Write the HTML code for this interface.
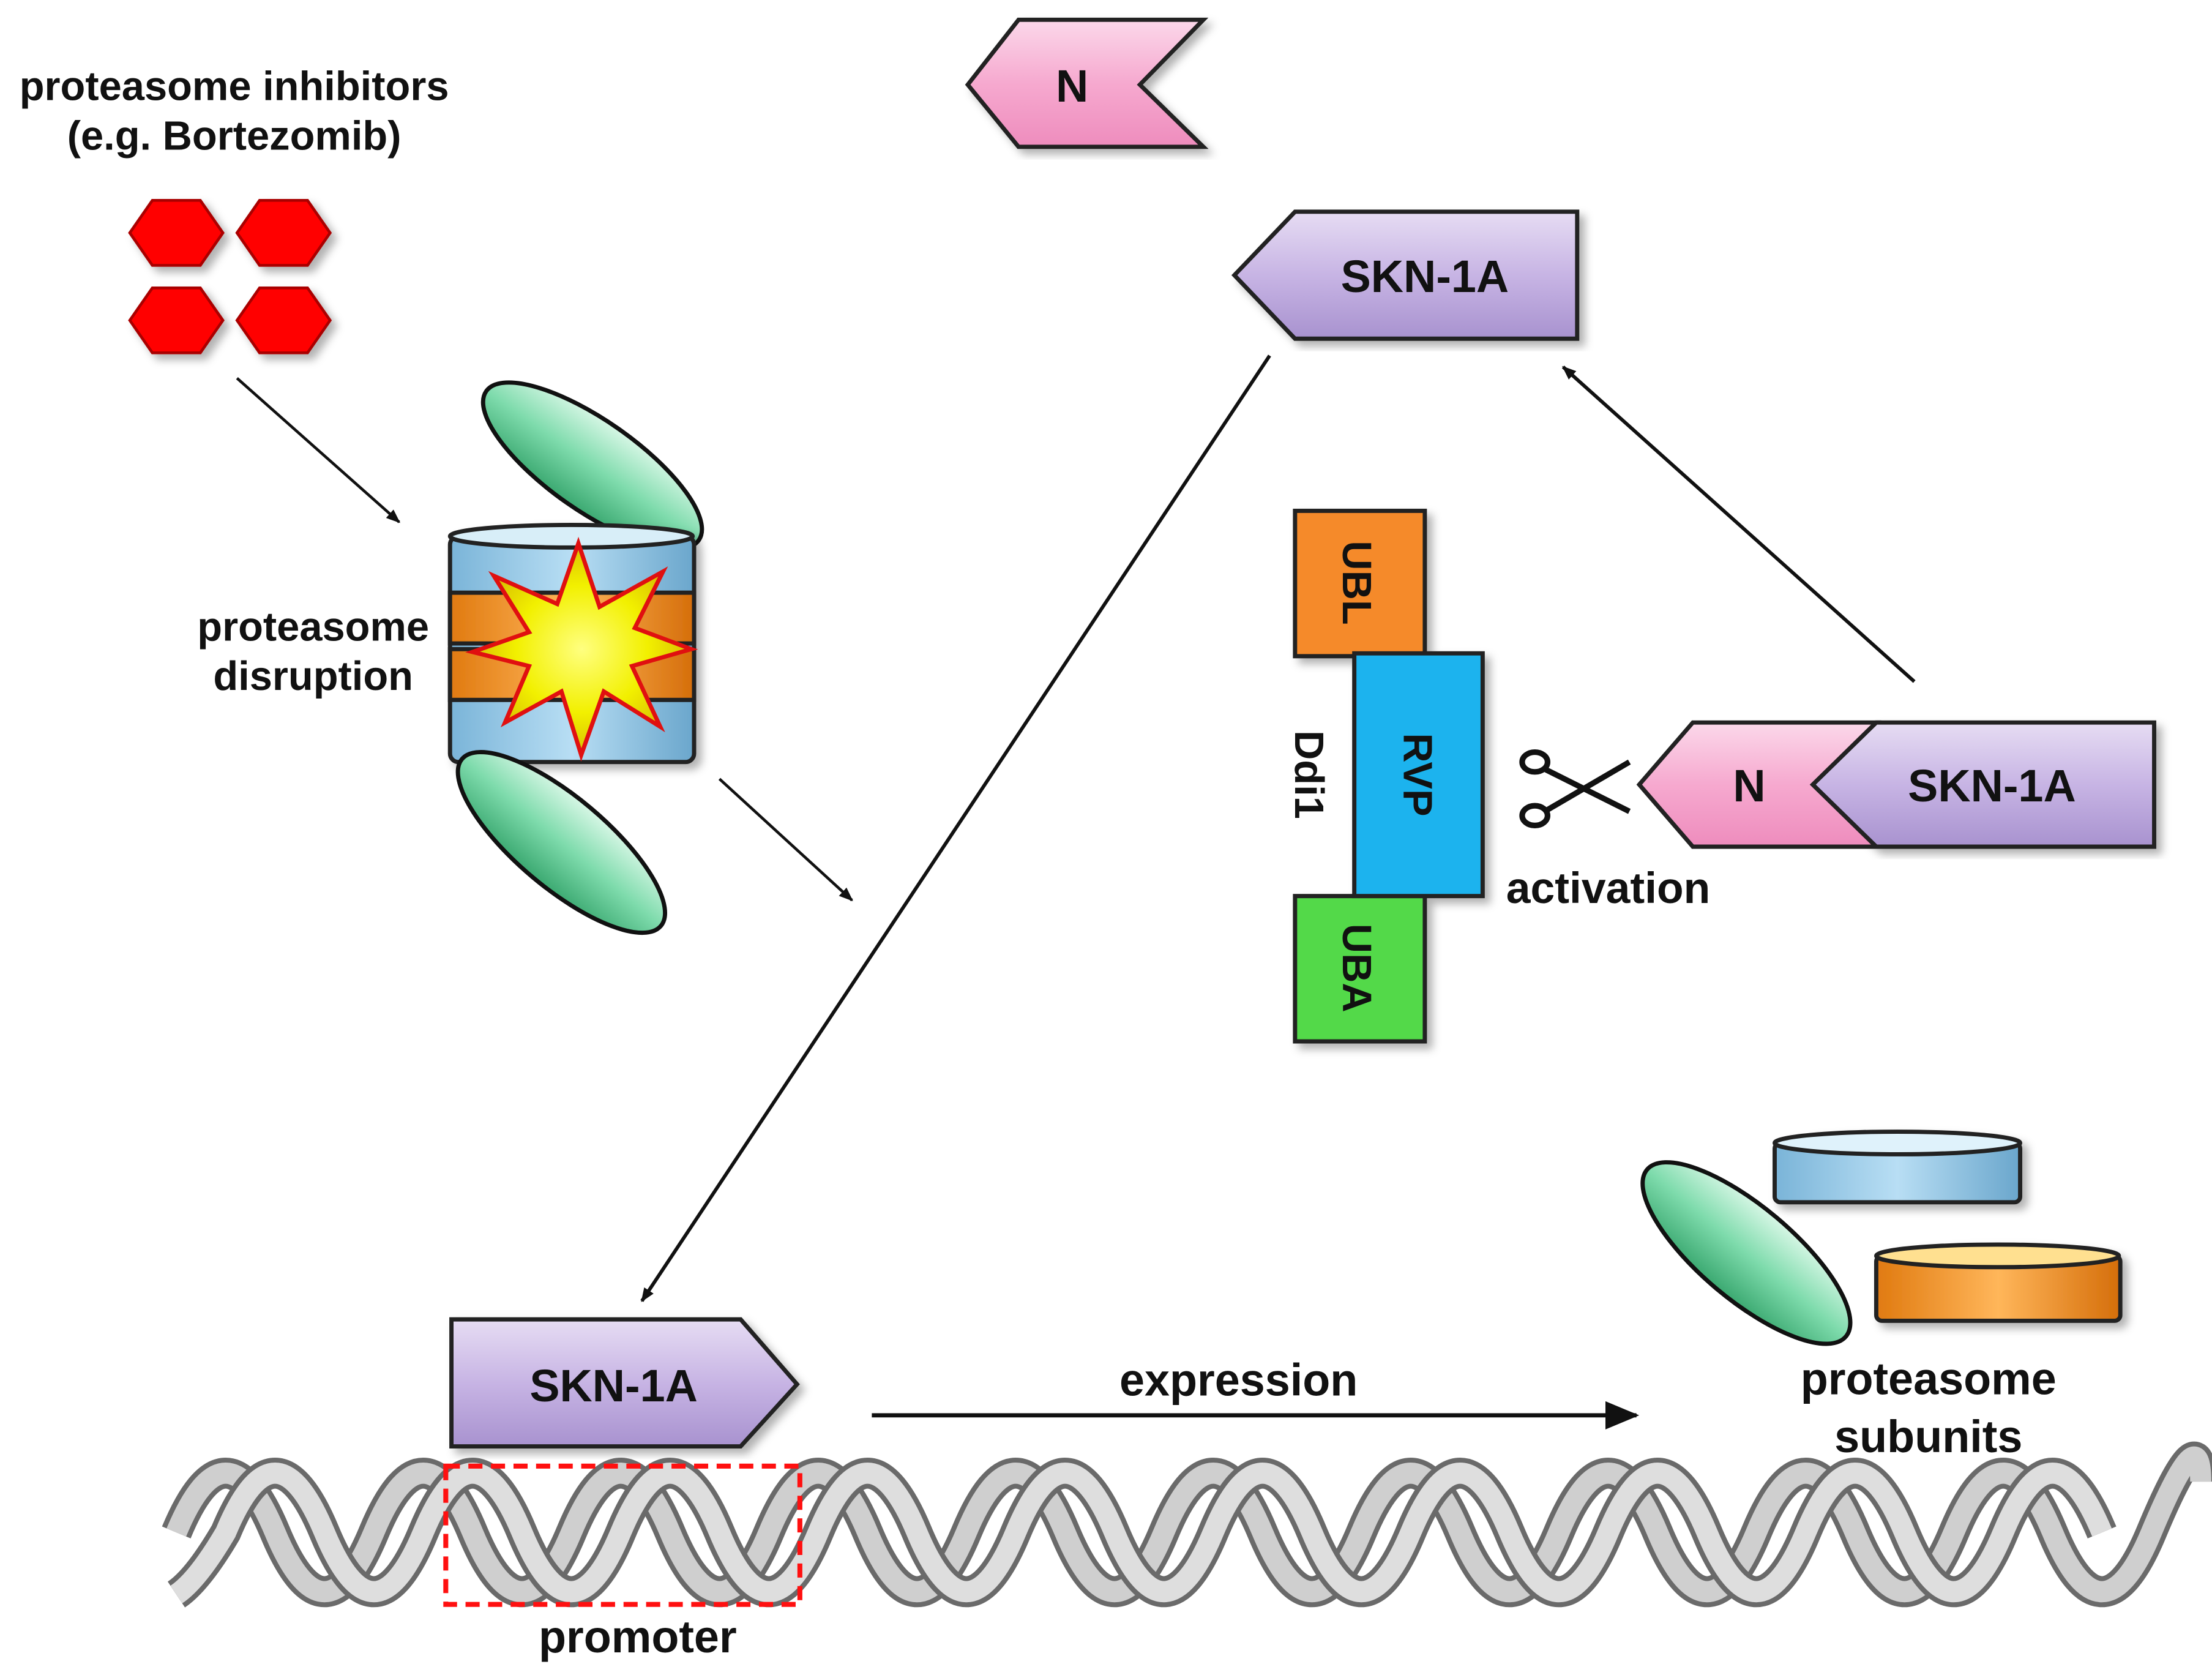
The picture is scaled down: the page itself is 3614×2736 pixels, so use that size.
<!DOCTYPE html>
<html><head><meta charset="utf-8">
<style>
html,body{margin:0;padding:0;background:#fff;}
svg{display:block;}
text{font-family:"Liberation Sans",Arial,sans-serif;font-weight:bold;fill:#111;}
</style></head>
<body>
<svg width="3614" height="2736" viewBox="0 0 1568 1187" xmlns="http://www.w3.org/2000/svg">
<defs>
<marker id="ah" markerWidth="10" markerHeight="10" refX="9" refY="5" orient="auto" markerUnits="userSpaceOnUse">
<path d="M0,1 L10,5 L0,9 Z" fill="#111"/></marker>
<marker id="ahb" markerWidth="24" markerHeight="20" refX="22" refY="10" orient="auto" markerUnits="userSpaceOnUse">
<path d="M0,0 L24,10 L0,20 Z" fill="#111"/></marker>
<linearGradient id="pur" x1="0" y1="0" x2="0" y2="1"><stop offset="0" stop-color="#e6dcf3"/><stop offset="0.5" stop-color="#c7b4e4"/><stop offset="1" stop-color="#a892cf"/></linearGradient>
<linearGradient id="pink" x1="0" y1="0" x2="0" y2="1"><stop offset="0" stop-color="#fbd8ea"/><stop offset="0.5" stop-color="#f6a9cf"/><stop offset="1" stop-color="#ee8cbd"/></linearGradient>
<linearGradient id="grn" x1="0" y1="0" x2="0" y2="1"><stop offset="0" stop-color="#d8f7e6"/><stop offset="0.5" stop-color="#7edbac"/><stop offset="1" stop-color="#3aa870"/></linearGradient>
<linearGradient id="blu" x1="0" y1="0" x2="1" y2="0"><stop offset="0" stop-color="#7ab4d8"/><stop offset="0.5" stop-color="#b8def4"/><stop offset="1" stop-color="#6aa6cc"/></linearGradient>
<linearGradient id="org" x1="0" y1="0" x2="1" y2="0"><stop offset="0" stop-color="#e07a10"/><stop offset="0.5" stop-color="#ffb65a"/><stop offset="1" stop-color="#d56e0a"/></linearGradient>
<radialGradient id="star"><stop offset="0" stop-color="#ffff80"/><stop offset="0.6" stop-color="#f2f000"/><stop offset="1" stop-color="#d8c000"/></radialGradient>
<filter id="sh"><feDropShadow dx="4" dy="4" stdDeviation="3" flood-color="#000" flood-opacity="0.3"/></filter>
</defs>

<!-- inhibitors -->
<text x="166" y="71" font-size="29" text-anchor="middle">proteasome inhibitors</text>
<text x="166" y="106" font-size="29" text-anchor="middle">(e.g. Bortezomib)</text>
<g fill="#ff0000" stroke="#a00" stroke-width="2" filter="url(#sh)">
<polygon points="92,165 108,142 142,142 158,165 142,188 108,188"/>
<polygon points="168,165 184,142 218,142 234,165 218,188 184,188"/>
<polygon points="92,227 108,204 142,204 158,227 142,250 108,250"/>
<polygon points="168,227 184,204 218,204 234,227 218,250 184,250"/>
</g>
<line x1="168" y1="268" x2="283" y2="370" stroke="#111" stroke-width="2" marker-end="url(#ah)"/>

<!-- proteasome disruption -->
<text x="222" y="454" font-size="29" text-anchor="middle">proteasome</text>
<text x="222" y="489" font-size="29" text-anchor="middle">disruption</text>
<ellipse cx="420" cy="330" rx="92" ry="32" transform="rotate(35 420 330)" fill="url(#grn)" stroke="#111" stroke-width="3"/>
<g stroke="#222" stroke-width="3" filter="url(#sh)">
<rect x="319" y="380" width="173" height="160" rx="6" fill="url(#blu)"/>
<rect x="319" y="420" width="173" height="36" fill="url(#org)"/>
<rect x="319" y="460" width="173" height="36" fill="url(#org)"/>
<ellipse cx="405" cy="380" rx="86" ry="8" fill="#d8eef8"/>
</g>
<polygon fill="url(#star)" stroke="#e01010" stroke-width="3" points="410,385 425,430 470,405 450,445 490,460 448,472 468,515 428,490 412,535 398,490 358,512 375,472 335,462 375,448 350,408 395,428"/>
<ellipse cx="398" cy="597" rx="92" ry="32" transform="rotate(40 398 597)" fill="url(#grn)" stroke="#111" stroke-width="3"/>
<line x1="510" y1="552" x2="604" y2="638" stroke="#111" stroke-width="2" marker-end="url(#ah)"/>

<!-- N top -->
<polygon points="686,60 722,14 853,14 808,60 853,104 722,104" fill="url(#pink)" stroke="#222" stroke-width="3" filter="url(#sh)"/>
<text x="760" y="72" font-size="32" text-anchor="middle">N</text>

<!-- SKN-1A top -->
<polygon points="875,195 918,150 1118,150 1118,240 918,240" fill="url(#pur)" stroke="#222" stroke-width="3" filter="url(#sh)"/>
<text x="1010" y="207" font-size="32" text-anchor="middle">SKN-1A</text>

<line x1="900" y1="252" x2="455" y2="922" stroke="#111" stroke-width="2.5" marker-end="url(#ah)"/>
<line x1="1357" y1="483" x2="1108" y2="260" stroke="#111" stroke-width="2.5" marker-end="url(#ah)"/>

<!-- Ddi1 -->
<g stroke="#222" stroke-width="3" filter="url(#sh)">
<rect x="918" y="362" width="92" height="103" fill="#f58a2a"/>
<rect x="918" y="635" width="92" height="103" fill="#52d94a"/>
<rect x="960" y="463" width="91" height="172" fill="#1fb3ee"/>
</g>
<text transform="translate(952,413) rotate(90)" font-size="29" text-anchor="middle">UBL</text>
<text transform="translate(952,686) rotate(90)" font-size="29" text-anchor="middle">UBA</text>
<text transform="translate(995,549) rotate(90)" font-size="29" text-anchor="middle">RVP</text>
<text transform="translate(918,549) rotate(90)" font-size="29" text-anchor="middle">Ddi1</text>

<!-- scissors -->
<g stroke="#111" stroke-width="4" fill="none">
<line x1="1095" y1="545" x2="1155" y2="575"/>
<line x1="1095" y1="575" x2="1155" y2="540"/>
<ellipse cx="1088" cy="540" rx="9" ry="7"/>
<ellipse cx="1088" cy="578" rx="9" ry="7"/>
</g>
<text x="1140" y="640" font-size="31" text-anchor="middle">activation</text>

<!-- N+SKN-1A -->
<polygon points="1285,556 1330,512 1527,512 1527,600 1330,600" fill="url(#pur)" stroke="#222" stroke-width="3" filter="url(#sh)"/>
<polygon points="1162,556 1200,512 1330,512 1285,556 1330,600 1200,600" fill="url(#pink)" stroke="#222" stroke-width="3"/>
<text x="1240" y="568" font-size="32" text-anchor="middle">N</text>
<text x="1412" y="568" font-size="32" text-anchor="middle">SKN-1A</text>

<!-- subunits -->
<g stroke="#222" stroke-width="3" filter="url(#sh)">
<rect x="1258" y="810" width="174" height="42" rx="4" fill="url(#blu)"/>
<ellipse cx="1345" cy="810" rx="87" ry="8" fill="#dff2fb"/>
<rect x="1330" y="890" width="173" height="46" rx="4" fill="url(#org)"/>
<ellipse cx="1416" cy="890" rx="86" ry="8" fill="#ffe090"/>
</g>
<ellipse cx="1238" cy="888" rx="92" ry="33" transform="rotate(40 1238 888)" fill="url(#grn)" stroke="#111" stroke-width="3"/>
<text x="1367" y="988" font-size="32" text-anchor="middle">proteasome</text>
<text x="1367" y="1029" font-size="32" text-anchor="middle">subunits</text>

<!-- bottom SKN-1A -->
<polygon points="320,935 525,935 565,981 525,1025 320,1025" fill="url(#pur)" stroke="#222" stroke-width="3" filter="url(#sh)"/>
<text x="435" y="993" font-size="32" text-anchor="middle">SKN-1A</text>

<line x1="618" y1="1003" x2="1160" y2="1003" stroke="#111" stroke-width="3" marker-end="url(#ahb)"/>
<text x="878" y="989" font-size="32" text-anchor="middle">expression</text>

<!-- DNA -->
<g fill="none" stroke-linecap="butt">
<path id="s1" d="M125,1086 Q160,1002 195,1086 T265,1086 T335,1086 T405,1086 T475,1086 T545,1086 T615,1086 T685,1086 T755,1086 T825,1086 T895,1086 T965,1086 T1035,1086 T1105,1086 T1175,1086 T1245,1086 T1315,1086 T1385,1086 T1455,1086 T1525,1086 T1560,1050" stroke="#6a6a6a" stroke-width="22"/>
<path d="M125,1086 Q160,1002 195,1086 T265,1086 T335,1086 T405,1086 T475,1086 T545,1086 T615,1086 T685,1086 T755,1086 T825,1086 T895,1086 T965,1086 T1035,1086 T1105,1086 T1175,1086 T1245,1086 T1315,1086 T1385,1086 T1455,1086 T1525,1086 T1560,1050" stroke="#cfcfcf" stroke-width="15"/>
<path d="M125,1130 Q140,1120 160,1086 Q195,1002 230,1086 T300,1086 T370,1086 T440,1086 T510,1086 T580,1086 T650,1086 T720,1086 T790,1086 T860,1086 T930,1086 T1000,1086 T1070,1086 T1140,1086 T1210,1086 T1280,1086 T1350,1086 T1420,1086 T1490,1086" stroke="#6a6a6a" stroke-width="22"/>
<path d="M125,1130 Q140,1120 160,1086 Q195,1002 230,1086 T300,1086 T370,1086 T440,1086 T510,1086 T580,1086 T650,1086 T720,1086 T790,1086 T860,1086 T930,1086 T1000,1086 T1070,1086 T1140,1086 T1210,1086 T1280,1086 T1350,1086 T1420,1086 T1490,1086" stroke="#dedede" stroke-width="15"/>
</g>
<rect x="316" y="1039" width="251" height="98" fill="none" stroke="#ff1010" stroke-width="3.5" stroke-dasharray="10,6"/>
<text x="452" y="1171" font-size="32" text-anchor="middle">promoter</text>
</svg>
</body></html>
